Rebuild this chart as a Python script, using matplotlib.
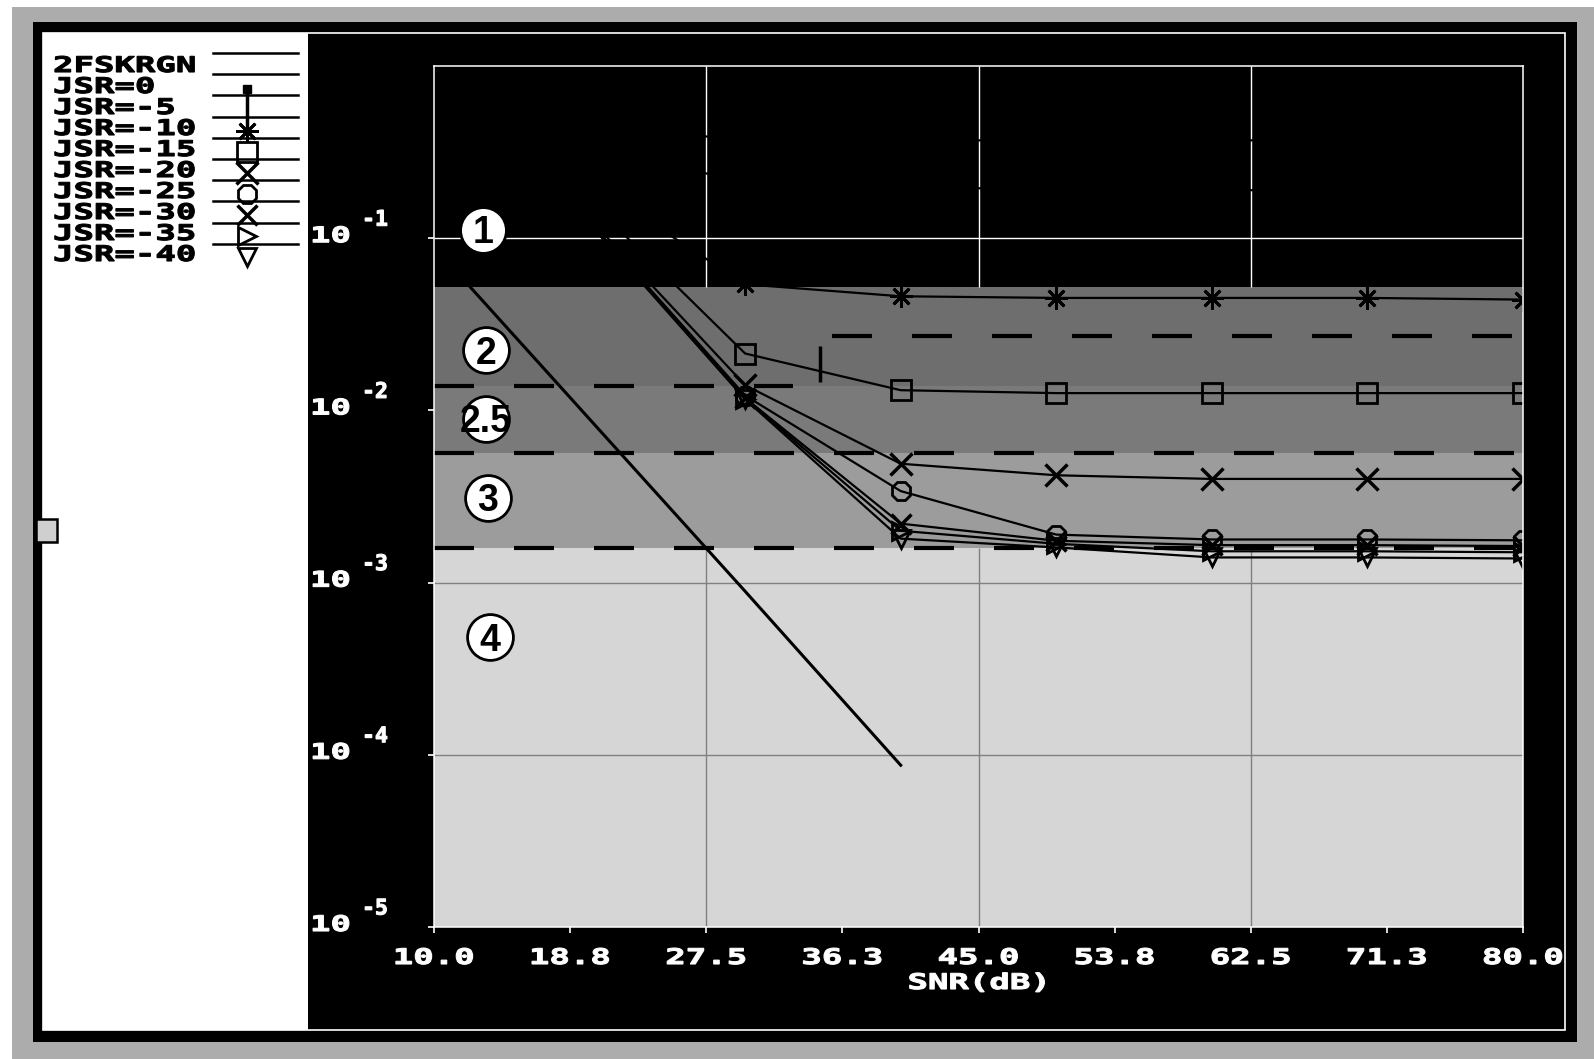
import matplotlib
matplotlib.use("Agg")
import matplotlib.pyplot as plt
from matplotlib.patches import Rectangle
from matplotlib.patheffects import AbstractPathEffect
from matplotlib.transforms import Affine2D, blended_transform_factory, ScaledTranslation
from matplotlib.ticker import NullLocator

# ---------------- data ----------------
snr = [10, 20, 30, 40, 50, 60, 70, 80]
snr_rgn = [10, 20, 30, 40]
ber_2fskrgn = [0.089, 0.0089, 8.9e-4, 8.7e-5]
ber_jsr_0 = [0.50, 0.42, 0.38, 0.37, 0.37, 0.37, 0.37, 0.37]
ber_jsr_m5 = [0.48, 0.30, 0.22, 0.20, 0.19, 0.19, 0.19, 0.19]
ber_jsr_m10 = [0.46, 0.21, 0.054, 0.046, 0.045, 0.045, 0.045, 0.044]
ber_jsr_m15 = [0.45, 0.165, 0.0214, 0.0131, 0.0126, 0.0126, 0.0126, 0.0126]
ber_jsr_m20 = [0.45, 0.13, 0.0140, 0.0049, 0.0042, 0.0040, 0.0040, 0.0040]
ber_jsr_m25 = [0.45, 0.125, 0.0122, 0.0034, 0.0019, 0.00178, 0.00178, 0.00176]
ber_jsr_m30 = [0.45, 0.123, 0.0118, 0.0022, 0.00175, 0.00165, 0.00165, 0.00163]
ber_jsr_m35 = [0.45, 0.122, 0.0117, 0.0020, 0.00168, 0.00152, 0.00152, 0.00150]
ber_jsr_m40 = [0.45, 0.121, 0.0116, 0.0018, 0.0016, 0.0014, 0.0014, 0.00138]
stray_snr = [34.8]
stray_ber = [0.0187]

series_labels = ["2FSKRGN", "JSR=0", "JSR=-5", "JSR=-10", "JSR=-15",
                 "JSR=-20", "JSR=-25", "JSR=-30", "JSR=-35", "JSR=-40"]

zone_labels = ["1", "2", "2.5", "3", "4"]
zone_snr = [13.15, 13.34, 13.34, 13.47, 13.6]
zone_ber = [0.112, 0.0223, 0.00893, 0.00312, 4.82e-4]

band_edges = [1.0, 0.052, 0.0139, 0.00565, 0.00158, 1e-5]
band_colors = ["#000000", "#6e6e6e", "#7a7a7a", "#9c9c9c", "#d6d6d6"]

boundary_ber = [0.0139, 0.027, 0.00565, 0.00158]
boundary_start = [10.0, 35.6, 10.0, 10.0]
boundary_end = [33.1, 80.0, 80.0, 80.0]

xtick_values = [10.0, 18.75, 27.5, 36.25, 45.0, 53.75, 62.5, 71.25, 80.0]
xtick_labels = ["10.0", "18.8", "27.5", "36.3", "45.0", "53.8", "62.5", "71.3", "80.0"]
ytick_values = [1e-1, 1e-2, 1e-3, 1e-4, 1e-5]
ytick_exponents = ["-1", "-2", "-3", "-4", "-5"]
grid_x = [27.5, 45.0, 62.5]
grid_y_dark_band = [1e-1]
grid_y_light_band = [1e-3, 1e-4]

# ---------------- helpers ----------------
class Stretch(AbstractPathEffect):
    """Widen (and slightly embolden) glyphs horizontally for a pixel-font look."""
    def __init__(self, sx, anchor="left", stroke=0.8):
        super().__init__()
        self._sx = sx
        self._anchor = anchor
        self._stroke = stroke

    def draw_path(self, renderer, gc, tpath, affine, rgbFace=None):
        cx = 0.0
        if self._anchor == "center":
            ext = tpath.get_extents()
            cx = 0.5 * (ext.x0 + ext.x1)
        pre = Affine2D().translate(-cx, 0).scale(self._sx, 1.0).translate(cx, 0)
        gc0 = renderer.new_gc()
        gc0.copy_properties(gc)
        if self._stroke > 0 and rgbFace is not None:
            gc0.set_linewidth(self._stroke)
            gc0.set_foreground(rgbFace)
            gc0.set_joinstyle("miter")
        renderer.draw_path(gc0, tpath, pre + affine, rgbFace)
        gc0.restore()


W, H = 1594, 1059
DPI = 100
MONO = dict(fontfamily="DejaVu Sans Mono", fontweight="bold", fontsize=15.5)
SX = 1.58

plt.rcParams["lines.scale_dashes"] = False

fig = plt.figure(figsize=(W / DPI, H / DPI), dpi=DPI, facecolor="white")

# background / frame in pixel coordinates
bg = fig.add_axes([0, 0, 1, 1])
bg.set_zorder(-1)
bg.set_xlim(0, W)
bg.set_ylim(H, 0)
bg.axis("off")
bg.add_patch(Rectangle((12, 7), W - 12, H - 7, fc="#acacac", ec="none"))
bg.add_patch(Rectangle((33, 22), 1577 - 33, 1042 - 22, fc="black", ec="none"))
bg.add_patch(Rectangle((43, 33), 1565 - 43, 1030 - 33, fill=False, ec="white", lw=1.2))
bg.add_patch(Rectangle((43, 33), 308 - 43, 1030 - 33, fc="white", ec="none"))
bg.add_patch(Rectangle((36, 519), 21, 23, fc="#cfcfcf", ec="black", lw=1.8))

# main plot axes
L, R, T, B = 434, 1523, 66, 927
ax = fig.add_axes([L / W, 1 - B / H, (R - L) / W, (B - T) / H])
ax.set_facecolor("black")
ax.set_yscale("log")
ax.set_xlim(10, 80)
ax.set_ylim(1e-5, 1.0)
ax.yaxis.set_minor_locator(NullLocator())
ax.set_xticks(xtick_values)
ax.set_yticks(ytick_values)
ax.tick_params(axis="both", which="both", direction="out", colors="white",
               length=4, width=1.2, labelleft=False, labelbottom=False)
for s in ax.spines.values():
    s.set_color("white")
    s.set_linewidth(1.1)

# shaded zones
for i, c in enumerate(band_colors):
    ax.axhspan(band_edges[i + 1], band_edges[i], color=c, lw=0, zorder=0)

# grid lines (white on black zone, grey on light zone)
ax.vlines(grid_x, band_edges[1], band_edges[0], colors="white", lw=1.0, zorder=0.5)
ax.vlines(grid_x, band_edges[5], band_edges[4], colors="#808080", lw=1.0, zorder=0.5)
ax.hlines(grid_y_dark_band, 10, 80, colors="white", lw=1.0, zorder=0.5)
ax.hlines(grid_y_light_band, 10, 80, colors="#808080", lw=1.0, zorder=0.5)

# dashed zone boundaries
for y, x0, x1 in zip(boundary_ber, boundary_start, boundary_end):
    ax.plot([x0, x1], [y, y], color="black", lw=3.0, dashes=(28.8, 28.8),
            solid_capstyle="butt", dash_capstyle="butt", zorder=1)

# curves
series = [(snr_rgn, ber_2fskrgn), (snr, ber_jsr_0), (snr, ber_jsr_m5),
          (snr, ber_jsr_m10), (snr, ber_jsr_m15), (snr, ber_jsr_m20),
          (snr, ber_jsr_m25), (snr, ber_jsr_m30), (snr, ber_jsr_m35),
          (snr, ber_jsr_m40)]
styles = [
    dict(marker=None),
    dict(marker="s", ms=6, mfc="black"),
    dict(marker="|", ms=26, mew=2.5),
    dict(marker=(8, 2, 0), ms=16, mew=2.0),
    dict(marker="s", ms=15, mfc="none", mew=2.0),
    dict(marker="x", ms=16, mew=2.5),
    dict(marker="8", ms=14, mfc="none", mew=2.0),
    dict(marker="x", ms=15, mew=2.5),
    dict(marker=">", ms=13, mfc="none", mew=2.0),
    dict(marker="v", ms=13, mfc="none", mew=2.0),
]
for (xs, ys), st, lab in zip(series, styles, series_labels):
    lw = 2.2 if lab == "2FSKRGN" else 1.6
    ax.plot(xs, ys, color="black", lw=lw, mec="black", zorder=2, label=lab, **st)
ax.plot(stray_snr, stray_ber, ls="none", color="black", mec="black", zorder=2, **styles[2])

# zone markers
ax.plot(zone_snr, zone_ber, ls="none", marker="o", ms=33, mfc="white",
        mec="black", mew=2.0, zorder=5)
num_off = ax.transData + ScaledTranslation(0, -13.5 / DPI, fig.dpi_scale_trans)
for x, y, lab in zip(zone_snr, zone_ber, zone_labels):
    ax.text(x, y, lab, transform=num_off, ha="center", va="baseline",
            fontsize=27, fontweight="bold", fontfamily="Liberation Sans",
            color="black", zorder=6)

# x tick labels and axis title (white pixel-font)
tx = blended_transform_factory(ax.transData, bg.transData)
for v, lab in zip(xtick_values, xtick_labels):
    bg.text(v, 964, lab, transform=tx, ha="center", va="baseline", color="white",
            path_effects=[Stretch(SX, "center")], **MONO)
bg.text((L + R) / 2, 989, "SNR(dB)", ha="center", va="baseline", color="white",
        path_effects=[Stretch(SX, "center")], **MONO)

# y tick labels 10^-k
ty = blended_transform_factory(bg.transData, ax.transData)
base_tr = ty + ScaledTranslation(0, -4 / DPI, fig.dpi_scale_trans)
exp_tr = ty + ScaledTranslation(0, 12.5 / DPI, fig.dpi_scale_trans)
for v, e in zip(ytick_values, ytick_exponents):
    bg.text(310, v, "10", transform=base_tr, ha="left", va="baseline", color="white",
            path_effects=[Stretch(SX)], **MONO)
    bg.text(362, v, e, transform=exp_tr, ha="left", va="baseline", color="white",
            path_effects=[Stretch(1.0)], **MONO)

# legend (in white panel)
for i, (lab, st) in enumerate(zip(series_labels, styles)):
    row_y = 65 + 21 * i
    bg.text(53, row_y + 7, lab, ha="left", va="baseline", color="black",
            path_effects=[Stretch(SX)], **MONO)
    line_y = 53 + 21.2 * i
    bg.plot([213, 298], [line_y, line_y], color="black", lw=1.8)
    if st.get("marker") is not None:
        mst = dict(st)
        if mst.get("mfc") == "none":
            mst["mfc"] = "white"
        bg.plot([247], [row_y + 3], ls="none", color="black", mec="black", **mst)

bg.set_xlim(0, W)
bg.set_ylim(H, 0)

fig.savefig("out.png", dpi=DPI, facecolor=fig.get_facecolor())
